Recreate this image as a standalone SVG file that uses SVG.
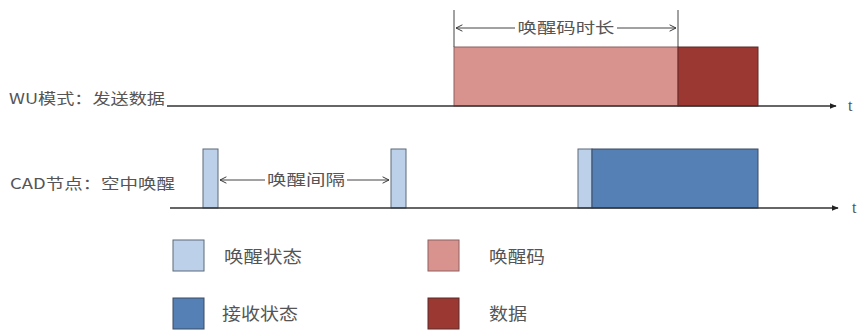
<svg xmlns="http://www.w3.org/2000/svg" width="859" height="332" viewBox="0 0 859 332">
<defs>
<marker id="axisArrow" viewBox="0 0 10 10" refX="9" refY="5" markerWidth="7" markerHeight="7" markerUnits="userSpaceOnUse" orient="auto">
<path d="M0,1 L10,5 L0,9 Z" fill="#222"/>
</marker>
<marker id="open" viewBox="0 0 10 10" refX="9" refY="5" markerWidth="8" markerHeight="8" markerUnits="userSpaceOnUse" orient="auto-start-reverse">
<path d="M1,1 L9,5 L1,9" fill="none" stroke="#333" stroke-width="1.2"/>
</marker>
</defs>
<style>
text{font-family:"Noto Sans CJK SC","Liberation Serif",serif;fill:#555;font-size:15px}
.leg{font-size:17px}
.t{font-family:"Liberation Serif",serif;font-size:16px}
.axis{stroke:#333;stroke-width:1.3;fill:none}
.dim{stroke:#444;stroke-width:1;fill:none}
.wake{fill:#bcd0ea;stroke:#5c6878;stroke-width:1}
.recv{fill:#5580b6;stroke:#3a4a60;stroke-width:1}
.code{fill:#d9938f;stroke:#8c6060;stroke-width:1}
.data{fill:#9b3832;stroke:#5a2a28;stroke-width:1}
</style>
<rect width="859" height="332" fill="#fff"/>
<g id="labels">
<text x="9" y="104" textLength="156" lengthAdjust="spacingAndGlyphs">WU模式：发送数据</text>
<text x="10" y="189" textLength="165" lengthAdjust="spacingAndGlyphs">CAD节点：空中唤醒</text>
<text class="t" x="848" y="111">t</text>
<text class="t" x="852" y="213">t</text>
</g>
<g id="wu-row">
<rect id="wake-code" class="code" x="454" y="47" width="224" height="59"/>
<rect id="data" class="data" x="678" y="47" width="80" height="59"/>
</g>
<g id="cad-row">
<rect id="wake1" class="wake" x="203" y="149" width="15" height="59"/>
<rect id="wake2" class="wake" x="391" y="149" width="15" height="59"/>
<rect id="wake3" class="wake" x="578" y="149" width="14" height="59"/>
<rect id="recv" class="recv" x="592" y="149" width="166" height="59"/>
</g>
<g id="connectors">
<line class="axis" x1="167" y1="106" x2="836" y2="106" marker-end="url(#axisArrow)"/>
<line class="axis" x1="170" y1="208" x2="838" y2="208" marker-end="url(#axisArrow)"/>
<line class="dim" x1="454" y1="10" x2="454" y2="47"/>
<line class="dim" x1="678" y1="10" x2="678" y2="47"/>
<line class="dim" x1="456" y1="28" x2="515" y2="28" marker-start="url(#open)"/>
<line class="dim" x1="617" y1="28" x2="676" y2="28" marker-end="url(#open)"/>
<line class="dim" x1="220" y1="180" x2="265" y2="180" marker-start="url(#open)"/>
<line class="dim" x1="347" y1="180" x2="389" y2="180" marker-end="url(#open)"/>
</g>
<g id="dim-labels">
<text x="566" y="33" text-anchor="middle" textLength="97" lengthAdjust="spacingAndGlyphs">唤醒码时长</text>
<text x="306" y="185" text-anchor="middle" textLength="78" lengthAdjust="spacingAndGlyphs">唤醒间隔</text>
</g>
<g id="legend">
<g id="legend-wake"><rect class="wake" x="173" y="240" width="31" height="31"/><text class="leg" x="224" y="263" textLength="78" lengthAdjust="spacingAndGlyphs">唤醒状态</text></g>
<g id="legend-recv"><rect class="recv" x="173" y="298" width="31" height="31"/><text class="leg" x="222" y="320" textLength="76" lengthAdjust="spacingAndGlyphs">接收状态</text></g>
<g id="legend-code"><rect class="code" x="428" y="240" width="31" height="31"/><text class="leg" x="489" y="263" textLength="56" lengthAdjust="spacingAndGlyphs">唤醒码</text></g>
<g id="legend-data"><rect class="data" x="428" y="298" width="31" height="31"/><text class="leg" x="489" y="320" textLength="38" lengthAdjust="spacingAndGlyphs">数据</text></g>
</g>
</svg>
